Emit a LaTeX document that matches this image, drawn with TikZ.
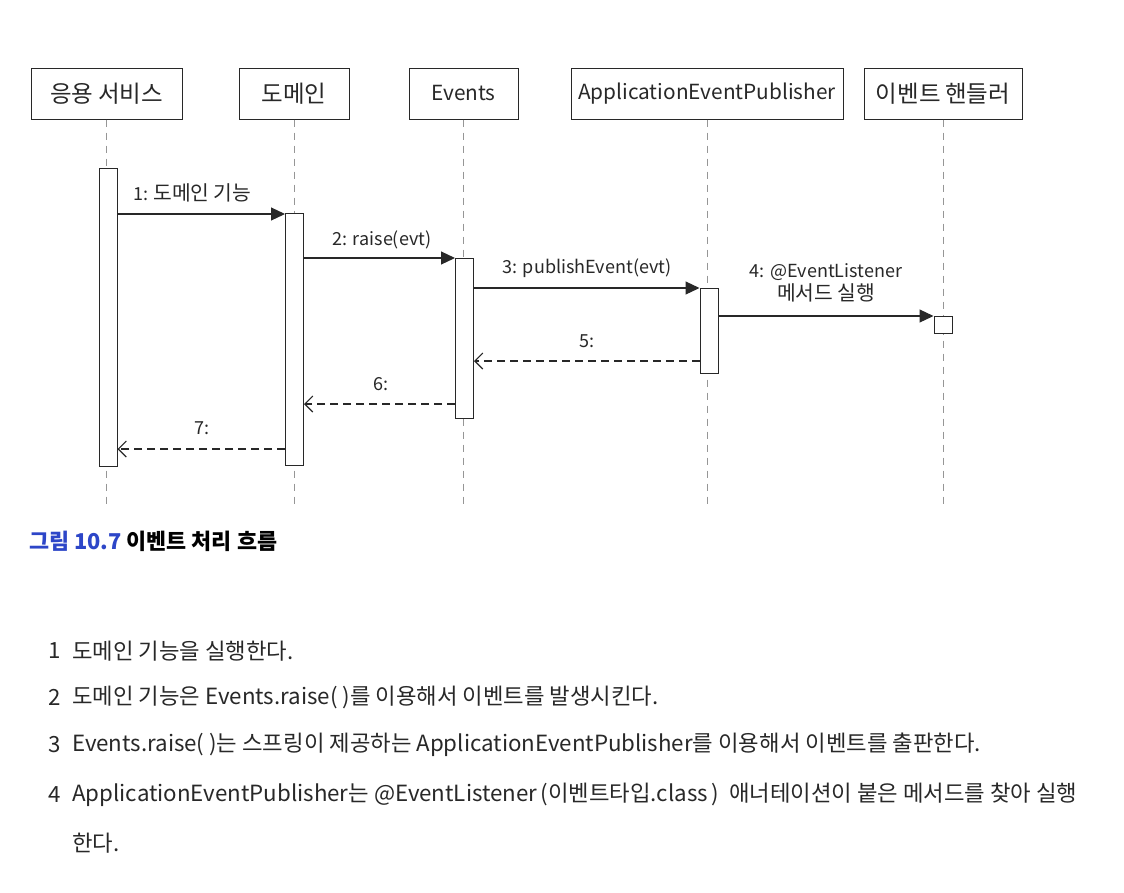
\documentclass[tikz,border=0pt]{standalone}
\usepackage{fontspec}
\setmainfont{Noto Sans CJK KR}
\newfontfamily\hangulA[Scale=1.13]{Noto Sans CJK KR}
\newfontfamily\hangulB[Scale=1.0]{Noto Sans CJK KR}
\let\hangulsel\hangulA
\XeTeXinterchartokenstate=1
\newXeTeXintercharclass\HangulClass
\count255="AC00
\loop
  \XeTeXcharclass\count255=\HangulClass
  \ifnum\count255<"D7A3 \advance\count255 by 1
\repeat
\XeTeXinterchartoks 0 \HangulClass = {\begingroup\hangulsel}
\XeTeXinterchartoks 4095 \HangulClass = {\begingroup\hangulsel}
\XeTeXinterchartoks \HangulClass 0 = {\endgroup}
\XeTeXinterchartoks \HangulClass 4095 = {\endgroup}
\usetikzlibrary{arrows.meta}
\definecolor{ink}{RGB}{40,40,40}
\definecolor{lifegray}{RGB}{150,150,150}
\definecolor{capblue}{RGB}{45,70,200}
\begin{document}
\begin{tikzpicture}[x=1pt,y=-1pt,
  head/.style={draw=ink,line width=1pt,minimum height=51pt,inner sep=0pt,font=\fontsize{20.8}{24}\selectfont,text=ink},
  life/.style={draw=lifegray,line width=0.8pt,dash pattern=on 7pt off 6pt},
  bar/.style={draw=ink,fill=white,line width=1pt,minimum width=18pt,inner sep=0pt},
  call/.style={draw=ink,line width=1.1pt,-{Triangle[length=14pt,width=13pt]}},
  ret/.style={draw=ink,line width=1.1pt,dash pattern=on 8pt off 5pt,-{Straight Barb[length=8pt,width=16pt,line width=1.1pt]}},
  lbl/.style={font=\fontsize{18}{21}\selectfont,text=ink,inner sep=0pt},
  item/.style={font=\let\hangulsel\hangulB\fontsize{22.3}{26}\selectfont,text=ink,inner sep=0pt,anchor=west}
]
\useasboundingbox (0,0) rectangle (1124,892);
\fill[white] (0,0) rectangle (1124,892);
% headers
\node[head,minimum width=151pt] (hA) at (106.5,93.5) {응용 서비스};
\node[head,minimum width=110pt] (hD) at (294,93.5) {도메인};
\node[head,minimum width=109pt] (hE) at (463.5,93.5) {Events};
\node[head,minimum width=272pt] (hP) at (707,93.5) {ApplicationEventPublisher};
\node[head,minimum width=158pt] (hH) at (943,93.5) {이벤트 핸들러};
% lifeline ends
\coordinate (eA) at (hA.south |- 0,505);
\coordinate (eD) at (hD.south |- 0,505);
\coordinate (eE) at (hE.south |- 0,505);
\coordinate (eP) at (hP.south |- 0,505);
\coordinate (eH) at (hH.south |- 0,505);
\draw[life] (hA.south) -- (eA);
\draw[life] (hD.south) -- (eD);
\draw[life] (hE.south) -- (eE);
\draw[life] (hP.south) -- (eP);
\draw[life] (hH.south) -- (eH);
% activation bars
\node[bar,minimum height=298pt] (bA) at (108,317) {};
\node[bar,minimum height=252pt] (bD) at (294.5,339) {};
\node[bar,minimum height=160pt] (bE) at (464.5,338) {};
\node[bar,minimum height=85pt] (bP) at (709,330.5) {};
\node[bar,minimum height=17pt] (bH) at (943,324.5) {};
% messages
\draw[call] (bA.east |- 0,214) -- (bD.west |- 0,214);
\draw[call] (bD.east |- 0,258) -- (bE.west |- 0,258);
\draw[call] (bE.east |- 0,288) -- (bP.west |- 0,288);
\draw[call] (bP.east |- 0,316) -- (bH.west |- 0,316);
\draw[ret] (bP.west |- 0,361) -- (bE.east |- 0,361);
\draw[ret] (bE.west |- 0,404) -- (bD.east |- 0,404);
\draw[ret] (bD.west |- 0,449) -- (bA.east |- 0,449);
% labels
\node[lbl] (l1) at (192,193) {1: 도메인 기능};
\node[lbl] (l2) at (382,240) {2: raise(evt)};
\node[lbl] (l3) at (587,268) {3: publishEvent(evt)};
\node[lbl,align=center] (l4) at (826,283) {4: @EventListener\\[2pt]메서드 실행};
\node[lbl] (l5) at (587,341) {5:};
\node[lbl] (l6) at (381,384) {6:};
\node[lbl] (l7) at (202,428) {7:};
% caption
\node[anchor=west,inner sep=0pt,font=\let\hangulsel\relax\fontsize{21.8}{25}\selectfont\bfseries] (cap) at (29,541) {\textcolor{capblue}{그림 10.7} 이벤트 처리 흐름};
% list
\node[item] (n1) at (48,651) {1};
\node[item] (t1) at (72,651) {도메인 기능을 실행한다.};
\node[item] (n2) at (48,697) {2};
\node[item] (t2) at (72,697) {도메인 기능은 Events.raise( )를 이용해서 이벤트를 발생시킨다.};
\node[item] (n3) at (48,745) {3};
\node[item] (t3) at (72,745) {Events.raise( )는 스프링이 제공하는 ApplicationEventPublisher를 이용해서 이벤트를 출판한다.};
\node[item] (n4) at (48,795) {4};
\node[item] (t4) at (72,795) {ApplicationEventPublisher는 @EventListener\,(이벤트타입.class\,)\ \ 애너테이션이 붙은 메서드를 찾아 실행};
\node[item] (t5) at (72,843) {한다.};
\end{tikzpicture}
\end{document}
